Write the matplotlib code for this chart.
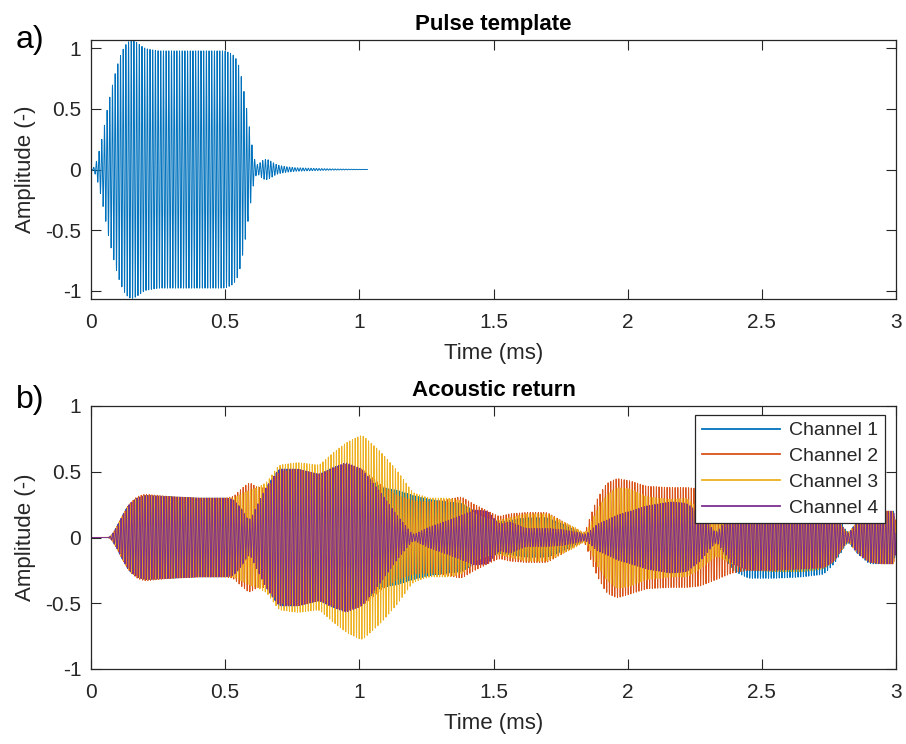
import numpy as np
import matplotlib
matplotlib.use("Agg")
import matplotlib.pyplot as plt
from matplotlib.ticker import FuncFormatter
from matplotlib.lines import Line2D

# ---------------- data ----------------
# carrier of the sonar pulse (kHz) and sample rate (samples per ms)
carrier_khz = 100.0
samples_per_ms = 2000

# a) Pulse template: amplitude envelope keypoints (time in ms)
pulse_t = [0, 0.015, 0.03, 0.045, 0.06, 0.075, 0.09, 0.11, 0.13, 0.15, 0.17, 0.2,
           0.25, 0.5, 0.53, 0.55, 0.57, 0.59, 0.605, 0.615, 0.63, 0.65, 0.67, 0.69,
           0.72, 0.76, 0.82, 0.9, 1.03]
pulse_env = [0, 0.02, 0.15, 0.3, 0.5, 0.65, 0.8, 0.95, 1.04, 1.07, 1.05, 1.0,
             0.98, 0.98, 0.95, 0.88, 0.65, 0.35, 0.12, 0.02, 0.06, 0.09, 0.07, 0.04,
             0.025, 0.015, 0.01, 0.005, 0.0]
pulse_end = 1.03

# b) Acoustic return: envelope keypoints on a shared time grid (ms)
ret_t = [0, 0.07, 0.09, 0.115, 0.14, 0.17, 0.2, 0.3, 0.4, 0.5, 0.53, 0.56, 0.59, 0.62,
         0.655, 0.7, 0.77, 0.85, 0.9, 0.95, 1.01, 1.08, 1.14, 1.2, 1.26, 1.33, 1.38,
         1.43, 1.48, 1.52, 1.56, 1.62, 1.7, 1.76, 1.81, 1.84, 1.86, 1.885, 1.92, 1.96,
         2.01, 2.07, 2.16, 2.22, 2.27, 2.33, 2.39, 2.45, 2.55, 2.65, 2.73, 2.77, 2.82,
         2.855, 2.9, 2.95, 3.0]

ch1_upper = [0, 0, 0.06, 0.16, 0.25, 0.3, 0.32, 0.31, 0.30, 0.30, 0.29, 0.22, 0.12, 0.25,
             0.39, 0.52, 0.52, 0.48, 0.53, 0.56, 0.50, 0.38, 0.36, 0.32, 0.29, 0.27, 0.26,
             0.20, 0.15, 0.12, 0.13, 0.15, 0.15, 0.10, 0.05, 0.02, 0.05, 0.10, 0.13, 0.17,
             0.20, 0.24, 0.27, 0.26, 0.15, 0.04, 0.25, 0.31, 0.31, 0.30, 0.28, 0.20, 0.03,
             0.12, 0.20, 0.20, 0.20]
ch1_lower = ch1_upper

ch2_upper = [0, 0, 0.06, 0.16, 0.25, 0.31, 0.33, 0.31, 0.30, 0.30, 0.31, 0.37, 0.42, 0.38,
             0.38, 0.50, 0.52, 0.48, 0.52, 0.56, 0.52, 0.40, 0.32, 0.28, 0.27, 0.29, 0.31,
             0.25, 0.20, 0.16, 0.18, 0.19, 0.19, 0.12, 0.06, 0.03, 0.16, 0.29, 0.41, 0.45,
             0.43, 0.39, 0.38, 0.38, 0.37, 0.32, 0.27, 0.25, 0.25, 0.24, 0.23, 0.18, 0.02,
             0.12, 0.19, 0.20, 0.20]
ch2_lower = [0, 0, 0.06, 0.16, 0.25, 0.31, 0.33, 0.31, 0.30, 0.30, 0.31, 0.37, 0.42, 0.38,
             0.38, 0.50, 0.52, 0.48, 0.52, 0.56, 0.52, 0.40, 0.32, 0.28, 0.27, 0.29, 0.31,
             0.25, 0.20, 0.16, 0.18, 0.19, 0.19, 0.12, 0.06, 0.03, 0.16, 0.29, 0.42, 0.46,
             0.43, 0.39, 0.38, 0.38, 0.37, 0.32, 0.27, 0.25, 0.25, 0.24, 0.23, 0.18, 0.02,
             0.10, 0.19, 0.20, 0.20]

ch3_upper = [0, 0, 0.06, 0.16, 0.25, 0.30, 0.32, 0.31, 0.30, 0.30, 0.30, 0.33, 0.36, 0.38,
             0.42, 0.55, 0.57, 0.55, 0.64, 0.72, 0.78, 0.65, 0.51, 0.34, 0.30, 0.30, 0.28,
             0.18, 0.14, 0.13, 0.15, 0.18, 0.18, 0.12, 0.07, 0.03, 0.10, 0.21, 0.32, 0.38,
             0.37, 0.31, 0.29, 0.30, 0.20, 0.10, 0.20, 0.25, 0.26, 0.26, 0.24, 0.18, 0.03,
             0.12, 0.19, 0.20, 0.20]
ch3_lower = [0, 0, 0.06, 0.16, 0.25, 0.30, 0.32, 0.31, 0.30, 0.30, 0.30, 0.33, 0.36, 0.38,
             0.42, 0.55, 0.57, 0.55, 0.64, 0.72, 0.78, 0.65, 0.51, 0.34, 0.30, 0.30, 0.28,
             0.18, 0.14, 0.13, 0.15, 0.18, 0.18, 0.12, 0.07, 0.03, 0.10, 0.21, 0.32, 0.39,
             0.37, 0.32, 0.30, 0.30, 0.24, 0.14, 0.20, 0.25, 0.26, 0.26, 0.24, 0.18, 0.03,
             0.12, 0.19, 0.20, 0.20]

ch4_upper = [0, 0, 0.06, 0.16, 0.25, 0.30, 0.32, 0.31, 0.30, 0.30, 0.29, 0.22, 0.12, 0.25,
             0.39, 0.52, 0.52, 0.48, 0.53, 0.57, 0.52, 0.34, 0.17, 0.02, 0.08, 0.13, 0.17,
             0.21, 0.20, 0.10, 0.12, 0.07, 0.07, 0.06, 0.04, 0.02, 0.05, 0.10, 0.13, 0.17,
             0.20, 0.24, 0.27, 0.26, 0.18, 0.03, 0.20, 0.25, 0.25, 0.24, 0.23, 0.18, 0.02,
             0.12, 0.19, 0.20, 0.20]
ch4_lower = ch4_upper

# phase of each channel's carrier (cycles)
channel_phase = [0.0, 0.3, 0.55, 0.8]
channel_names = ["Channel 1", "Channel 2", "Channel 3", "Channel 4"]
channel_colors = ["#0072BD", "#D95319", "#EDB120", "#7E2F8E"]

x_ticks = [0, 0.5, 1, 1.5, 2, 2.5, 3]
y_ticks = [-1, -0.5, 0, 0.5, 1]

# ---------------- style ----------------
plt.rcParams["font.family"] = ["Liberation Sans", "DejaVu Sans"]
plt.rcParams["axes.unicode_minus"] = False
dark = "#262626"


def smooth_env(t, kt, kv, width_ms=0.02):
    v = np.interp(t, kt, kv)
    n = max(1, int(width_ms * samples_per_ms))
    k = np.ones(n) / n
    return np.convolve(v, k, mode="same")


def modulated(t, kt, up, lo, phase):
    c = np.cos(2 * np.pi * (carrier_khz * t + phase))
    eu = smooth_env(t, kt, up)
    el = smooth_env(t, kt, lo)
    return np.where(c >= 0, eu * c, el * c)


def style_axes(ax):
    for s in ax.spines.values():
        s.set_color(dark)
        s.set_linewidth(0.9)
    ax.tick_params(direction="in", length=7, width=0.8, top=True, right=True,
                   colors=dark, labelsize=15)
    ax.tick_params(axis="x", pad=10)
    ax.tick_params(axis="y", pad=7)
    ax.set_xlim(0, 3)
    ax.set_xticks(x_ticks)
    ax.set_yticks(y_ticks)
    fmt = FuncFormatter(lambda v, p: "%g" % v)
    ax.xaxis.set_major_formatter(fmt)
    ax.yaxis.set_major_formatter(fmt)
    ax.set_xlabel("Time (ms)", fontsize=16, color=dark, labelpad=8)
    ax.set_ylabel("Amplitude (-)", fontsize=16, color=dark, labelpad=7)


fig = plt.figure(figsize=(9.06, 7.44), dpi=100)
ax1 = fig.add_axes([91 / 906, 1 - 299 / 744, 805 / 906, 259 / 744])
ax2 = fig.add_axes([91 / 906, 1 - 669 / 744, 805 / 906, 263 / 744])

# a) pulse template
tp = np.arange(0, pulse_end + 1e-9, 1.0 / samples_per_ms)
sp = modulated(tp, pulse_t, pulse_env, pulse_env, 0.0)
ax1.plot(tp, sp, color=channel_colors[0], lw=0.7)
style_axes(ax1)
ax1.set_ylim(-1.07, 1.07)
ax1.set_title("Pulse template", fontsize=16, fontweight="bold", color="black", pad=7)

# b) acoustic return
tr = np.arange(0, 3.0 + 1e-9, 1.0 / samples_per_ms)
uppers = [ch1_upper, ch2_upper, ch3_upper, ch4_upper]
lowers = [ch1_lower, ch2_lower, ch3_lower, ch4_lower]
for i in range(4):
    s = modulated(tr, ret_t, uppers[i], lowers[i], channel_phase[i])
    ax2.plot(tr, s, color=channel_colors[i], lw=0.7)
style_axes(ax2)
ax2.set_ylim(-1, 1)
ax2.set_title("Acoustic return", fontsize=16, fontweight="bold", color="black", pad=7)

handles = [Line2D([], [], color=c, lw=1.3) for c in channel_colors]
leg = ax2.legend(handles, channel_names, loc="upper right",
                 bbox_to_anchor=(0.986, 0.966), borderaxespad=0, fontsize=14,
                 handlelength=4.0, handletextpad=0.45, labelspacing=0.42,
                 borderpad=0.35, fancybox=False, framealpha=1, edgecolor=dark)
leg.get_frame().set_linewidth(0.9)
for txt in leg.get_texts():
    txt.set_color(dark)

fig.text(30 / 906, 1 - 40 / 744, "a)", fontsize=23, ha="center", va="center")
fig.text(30 / 906, 1 - 400 / 744, "b)", fontsize=23, ha="center", va="center")

fig.savefig("out.png", dpi=100)
